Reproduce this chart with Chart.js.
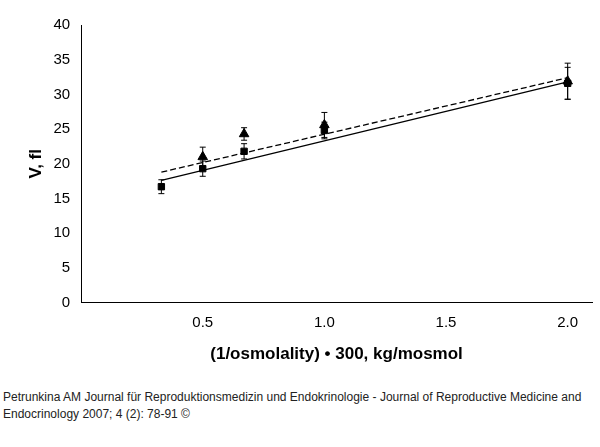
<!DOCTYPE html>
<html><head><meta charset="utf-8">
<script src="https://cdn.jsdelivr.net/npm/chart.js@4"></script>
<style>
body{margin:0;background:#fff;font-family:"Liberation Sans",Arial,sans-serif}
#wrap{width:600px;height:375px;position:relative}
#foot{font-size:12px;line-height:17px;padding:14px 0 0 3px;color:#222}
</style></head><body>
<div id="wrap"><canvas id="c"></canvas></div>
<div id="foot">Petrunkina AM Journal für Reproduktionsmedizin und Endokrinologie - Journal of Reproductive Medicine and Endocrinology 2007; 4 (2): 78-91 ©</div>
<script>
const xSquares = [0.33, 0.5, 0.67, 1.0, 2.0];
const ySquares = [16.7, 19.3, 21.8, 24.8, 31.6];
const errSquares = [1.0, 1.1, 1.1, 1.2, 2.3];
const xTriangles = [0.5, 0.67, 1.0, 2.0];
const yTriangles = [21.0, 24.3, 25.6, 31.9];
const errTriangles = [1.4, 0.9, 1.8, 2.6];
const solidLine = [[0.33, 17.6], [2.0, 31.8]];
const dashedLine = [[0.33, 18.8], [2.0, 32.4]];

const pts = (xs, ys) => xs.map((x, i) => ({x: x, y: ys[i]}));
const errorBars = {
  id: 'errorBars',
  afterDatasetsDraw(chart) {
    const {ctx, scales: {x, y}} = chart;
    ctx.save(); ctx.strokeStyle = '#000'; ctx.lineWidth = 1;
    [[xSquares, ySquares, errSquares], [xTriangles, yTriangles, errTriangles]].forEach(([xs, ys, es]) => {
      xs.forEach((v, i) => {
        const px = x.getPixelForValue(v), t = y.getPixelForValue(ys[i] + es[i]), b = y.getPixelForValue(ys[i] - es[i]);
        ctx.beginPath();
        ctx.moveTo(px, t); ctx.lineTo(px, b);
        ctx.moveTo(px - 3, t); ctx.lineTo(px + 3, t);
        ctx.moveTo(px - 3, b); ctx.lineTo(px + 3, b);
        ctx.stroke();
      });
    });
    ctx.restore();
  }
};

new Chart(document.getElementById('c'), {
  type: 'scatter',
  data: {datasets: [
    {data: solidLine.map(p => ({x: p[0], y: p[1]})), showLine: true, borderColor: '#000', borderWidth: 1.3, pointRadius: 0},
    {data: dashedLine.map(p => ({x: p[0], y: p[1]})), showLine: true, borderColor: '#000', borderWidth: 1.3, borderDash: [6, 3], pointRadius: 0},
    {data: pts(xSquares, ySquares), pointStyle: 'rect', pointRadius: 4.5, backgroundColor: '#000', borderColor: '#000'},
    {data: pts(xTriangles, yTriangles), pointStyle: 'triangle', pointRadius: 5.5, backgroundColor: '#000', borderColor: '#000'}
  ]},
  options: {
    responsive: true, maintainAspectRatio: false, animation: false,
    layout: {padding: {top: 25, right: 8, left: 22, bottom: 6}},
    plugins: {legend: {display: false}, tooltip: {enabled: false}},
    scales: {
      x: {min: 0, max: 2.1, grid: {display: false, drawTicks: true}, border: {color: '#000'},
        afterBuildTicks: s => { s.ticks = [0.5, 1.0, 1.5, 2.0].map(v => ({value: v})); },
        ticks: {color: '#000', font: {size: 15, family: 'Liberation Sans'}, callback: v => v.toFixed(1)},
        title: {display: true, text: '(1/osmolality) • 300, kg/mosmol', color: '#000', font: {size: 17, weight: 'bold', family: 'Liberation Sans'}, padding: {top: 10}}},
      y: {min: 0, max: 40, grid: {display: false}, border: {color: '#000'},
        ticks: {stepSize: 5, color: '#000', font: {size: 15, family: 'Liberation Sans'}},
        title: {display: true, text: 'V, fl', color: '#000', font: {size: 17, weight: 'bold', family: 'Liberation Sans'}}}
    }
  },
  plugins: [errorBars]
});
</script></body></html>
